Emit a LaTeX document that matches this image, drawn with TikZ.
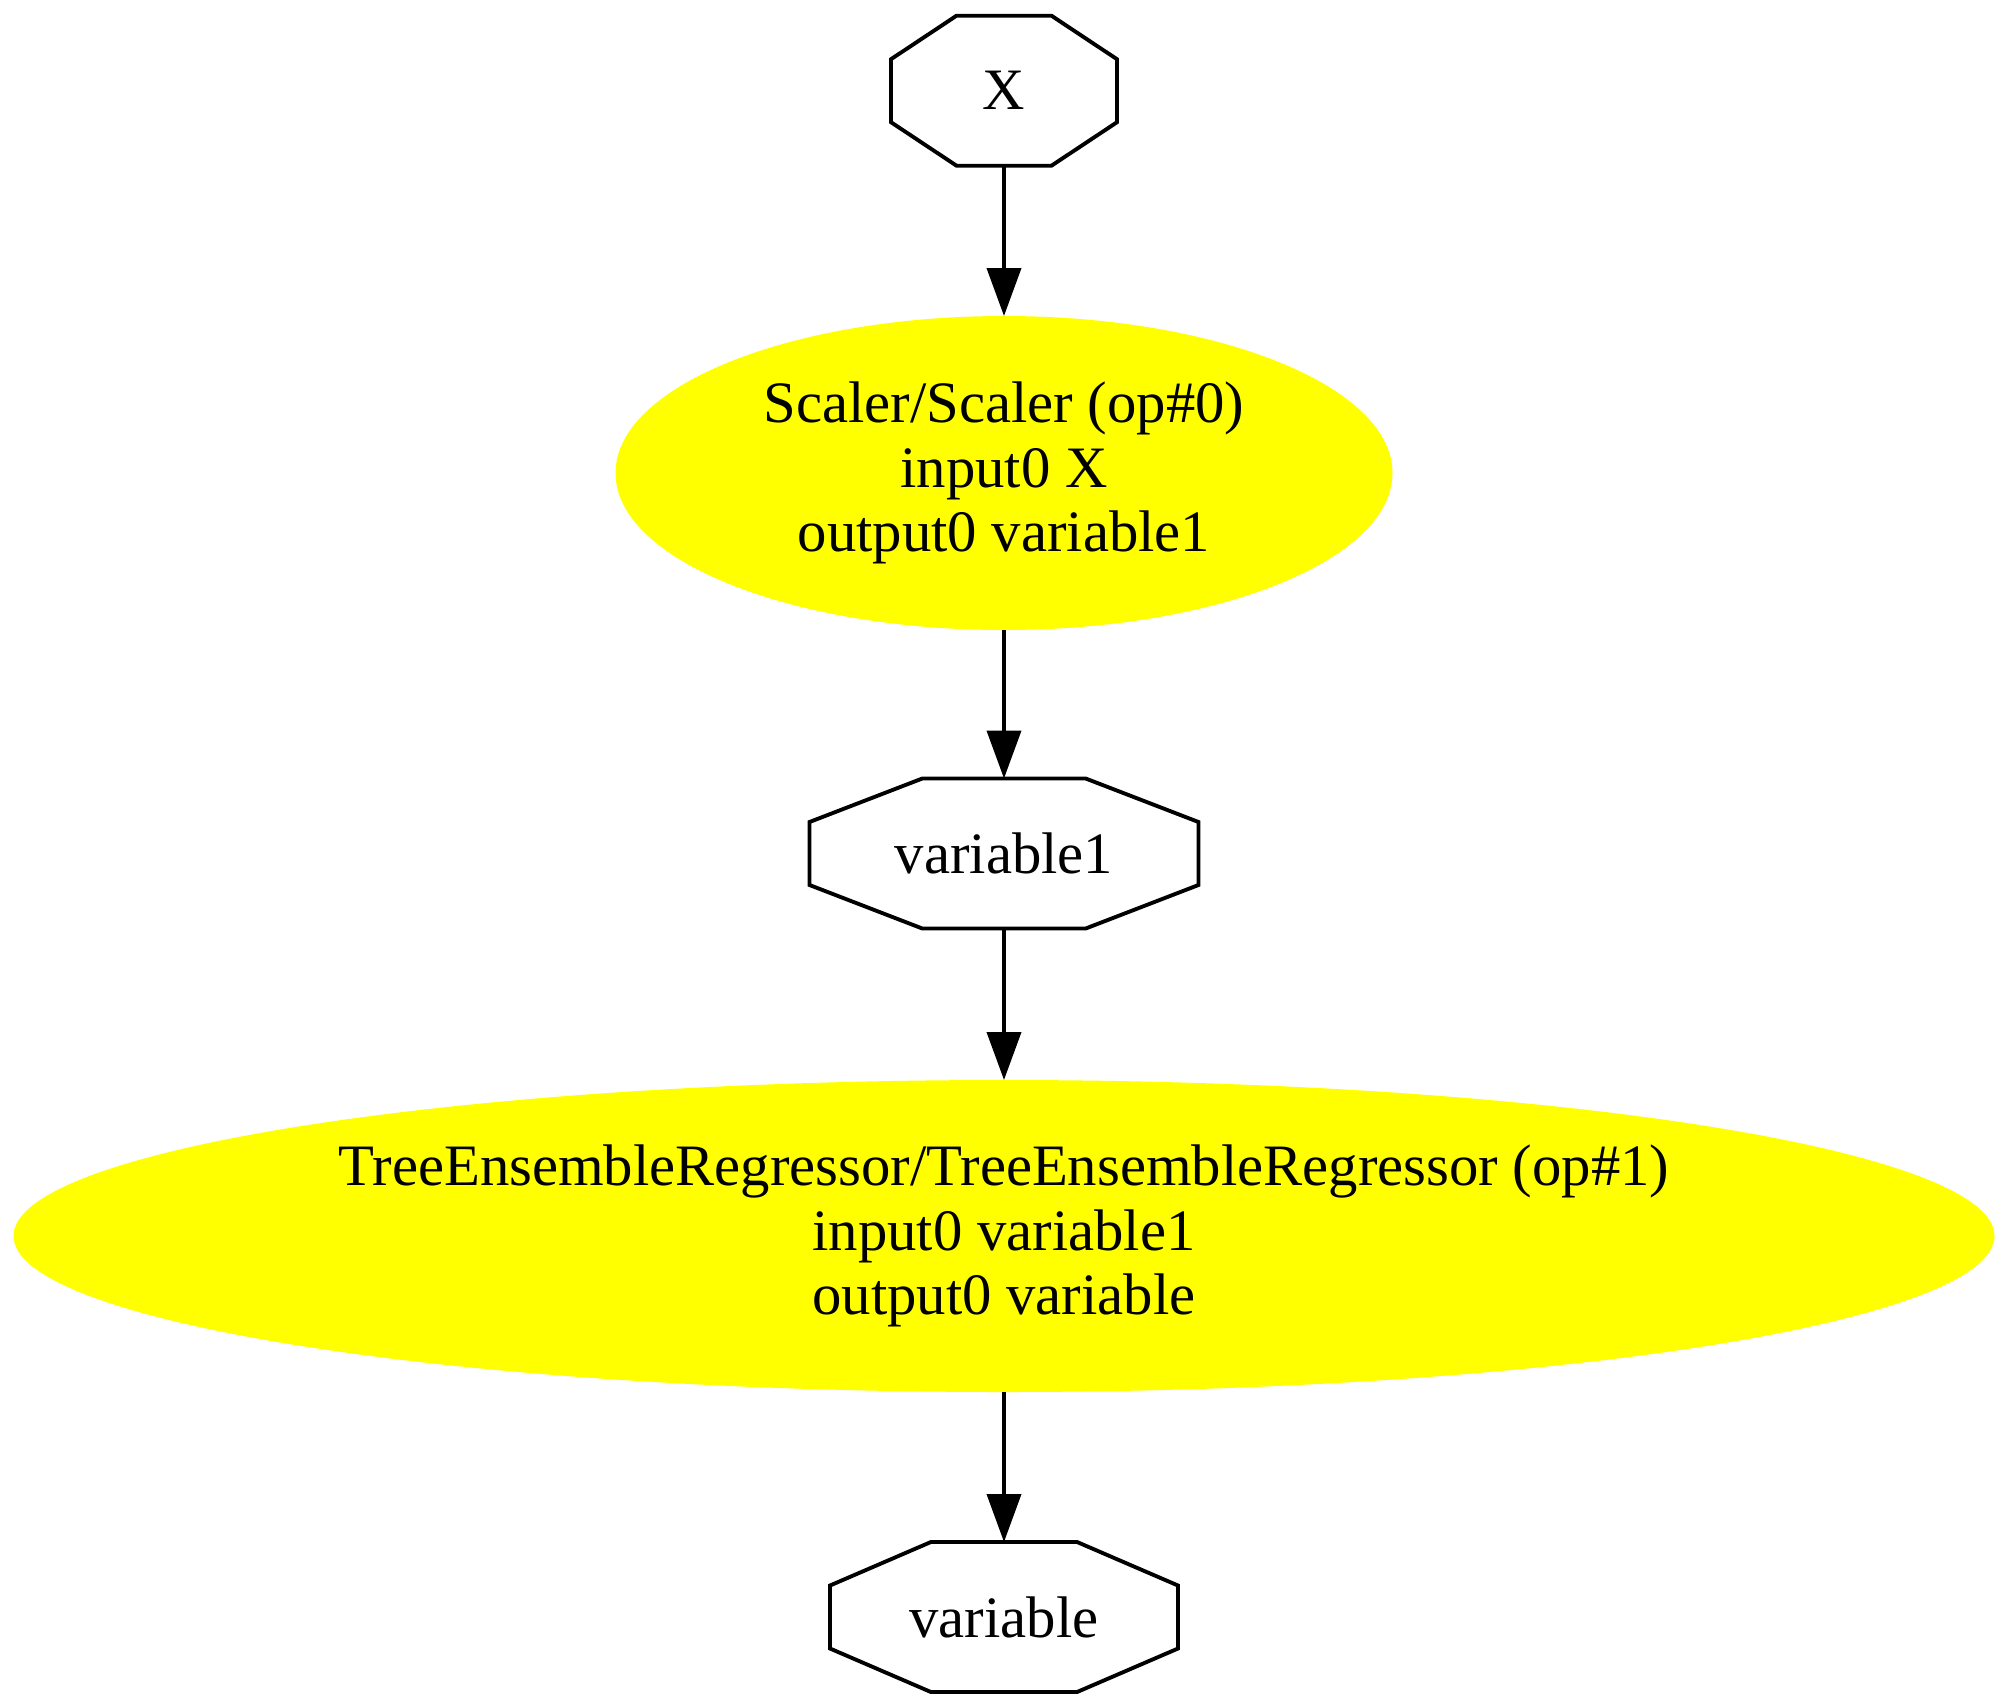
\documentclass[tikz,border=0pt]{standalone}
\usepackage{fontspec}
\setmainfont{Liberation Serif}
\usetikzlibrary{calc,arrows.meta,shapes.geometric}

\definecolor{opyellow}{RGB}{255,255,0}
\tikzset{
  octnode/.style={minimum height=1.5cm,inner sep=0pt,outer sep=0pt,
    font=\fontsize{16.7}{18.3}\selectfont},
  opnode/.style={ellipse,fill=opyellow,inner sep=0pt,outer sep=0pt,align=center,
    font=\fontsize{16.7}{18.3}\selectfont},
}

\begin{document}
\begin{tikzpicture}[line width=1.1pt,>={Triangle[length=0.48cm,width=0.34cm]}]
	\useasboundingbox (0,0) rectangle (20.08,-17.08);
	
	\node[octnode,minimum width=2.26cm] (X) at (10.04,-0.907) {X};
	\node[opnode,minimum width=7.77cm,minimum height=3.14cm] (scaler) at (10.04,-4.73)
	{Scaler/Scaler (op\#0)\\input0 X\\output0 variable1};
	\node[octnode,minimum width=3.89cm] (var1) at (10.04,-8.535) {variable1};
	\node[opnode,minimum width=19.81cm,minimum height=3.12cm] (tree) at (10.04,-12.36)
	{TreeEnsembleRegressor/TreeEnsembleRegressor (op\#1)\\input0 variable1\\output0 variable};
	\node[octnode,minimum width=3.48cm] (var) at (10.04,-16.17) {variable};
	
	\foreach \n in {X,var1,var}
	\draw ($(\n.north west)!0.29!(\n.north east)$) -- ($(\n.north west)!0.71!(\n.north east)$)
	-- ($(\n.north east)!0.29!(\n.south east)$) -- ($(\n.north east)!0.71!(\n.south east)$)
	-- ($(\n.south east)!0.29!(\n.south west)$) -- ($(\n.south east)!0.71!(\n.south west)$)
	-- ($(\n.south west)!0.29!(\n.north west)$) -- ($(\n.south west)!0.71!(\n.north west)$)
	-- cycle;
	
	\draw[->] (X) -- (scaler);
	\draw[->] (scaler) -- (var1);
	\draw[->] (var1) -- (tree);
	\draw[->] (tree) -- (var);
\end{tikzpicture}
\end{document}
